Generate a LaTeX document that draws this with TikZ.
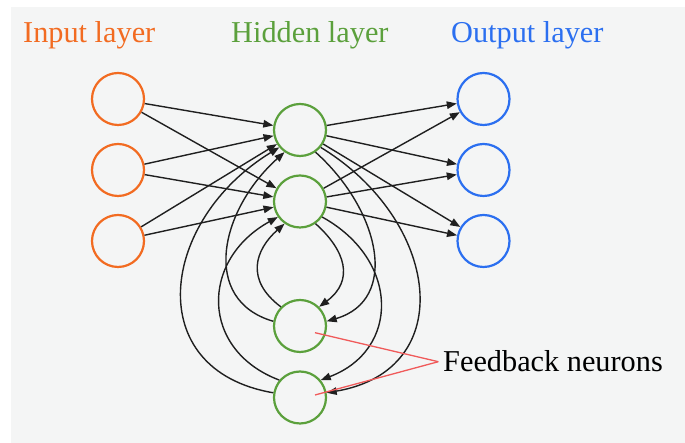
\documentclass[tikz,border=0pt]{standalone}
\usepackage{fontspec}
\setmainfont{Liberation Serif}
\usetikzlibrary{arrows.meta}
\definecolor{bg}{HTML}{F4F5F5}
\definecolor{inorange}{HTML}{F26B21}
\definecolor{hidgreen}{HTML}{5BA03C}
\definecolor{outblue}{HTML}{2B6FF0}
\definecolor{fbred}{HTML}{F05A5A}
\tikzset{
  neuron/.style={circle, draw, line width=2.2pt, minimum size=52pt, inner sep=0pt, fill=none},
  inneuron/.style={neuron, draw=inorange},
  hidneuron/.style={neuron, draw=hidgreen},
  outneuron/.style={neuron, draw=outblue},
  conn/.style={line width=1.4pt, black!88, -{Triangle[length=10pt,width=7.5pt]}},
  layerlabel/.style={anchor=base west, inner sep=0pt, font=\fontsize{30.3}{36}\selectfont},
  pointer/.style={fbred, line width=1.3pt}
}
\begin{document}
\begin{tikzpicture}[x=1pt,y=1pt]
\useasboundingbox (0,0) rectangle (685,443);
\fill[bg] (11,0) rectangle (685,436);

% labels
\node[layerlabel, text=inorange] (lin) at (23,400) {Input layer};
\node[layerlabel, text=hidgreen] (lhid) at (231,400) {Hidden layer};
\node[layerlabel, text=outblue] (lout) at (451,400) {Output layer};

% neurons
\node[inneuron] (I1) at (118,344) {};
\node[inneuron] (I2) at (118,273) {};
\node[inneuron] (I3) at (118,202) {};
\node[hidneuron] (H1) at (300,313) {};
\node[hidneuron] (H2) at (300,241.5) {};
\node[hidneuron] (F1) at (300,117) {};
\node[hidneuron] (F2) at (300,45.5) {};
\node[outneuron] (O1) at (483.5,344) {};
\node[outneuron] (O2) at (483.5,273) {};
\node[outneuron] (O3) at (483.5,202) {};

% input -> hidden
\foreach \i in {I1,I2,I3}{
  \foreach \h in {H1,H2}{
    \draw[conn] (\i) -- (\h);
  }
}
% hidden -> output
\foreach \h in {H1,H2}{
  \foreach \o in {O1,O2,O3}{
    \draw[conn] (\h) -- (\o);
  }
}

% hidden -> feedback (right side)
\draw[conn] (H2.-55) .. controls (345,193) and (355,163) .. (F1.45);
\draw[conn] (H1.-55) .. controls (380,233) and (400,143) .. (F1.10);
\draw[conn] (H2.-35) .. controls (400,183) and (400,93) .. (F2.40);
\draw[conn] (H1.-40) .. controls (440,223) and (460,73) .. (F2.10);

% feedback -> hidden (left side)
\draw[conn] (F1.135) .. controls (245,163) and (255,193) .. (H2.235);
\draw[conn] (F1.170) .. controls (200,143) and (220,233) .. (H1.235);
\draw[conn] (F2.140) .. controls (200,93) and (200,183) .. (H2.215);
\draw[conn] (F2.170) .. controls (140,73) and (160,223) .. (H1.220);

% feedback label
\node[layerlabel, text=black] (fb) at (443,71.5) {Feedback neurons};
\coordinate (fbtip) at (438.3,81.3);
\coordinate (p1) at (315,110.3);
\coordinate (p2) at (315,48);
\draw[pointer] (fbtip) -- (p1);
\draw[pointer] (fbtip) -- (p2);
\end{tikzpicture}
\end{document}
